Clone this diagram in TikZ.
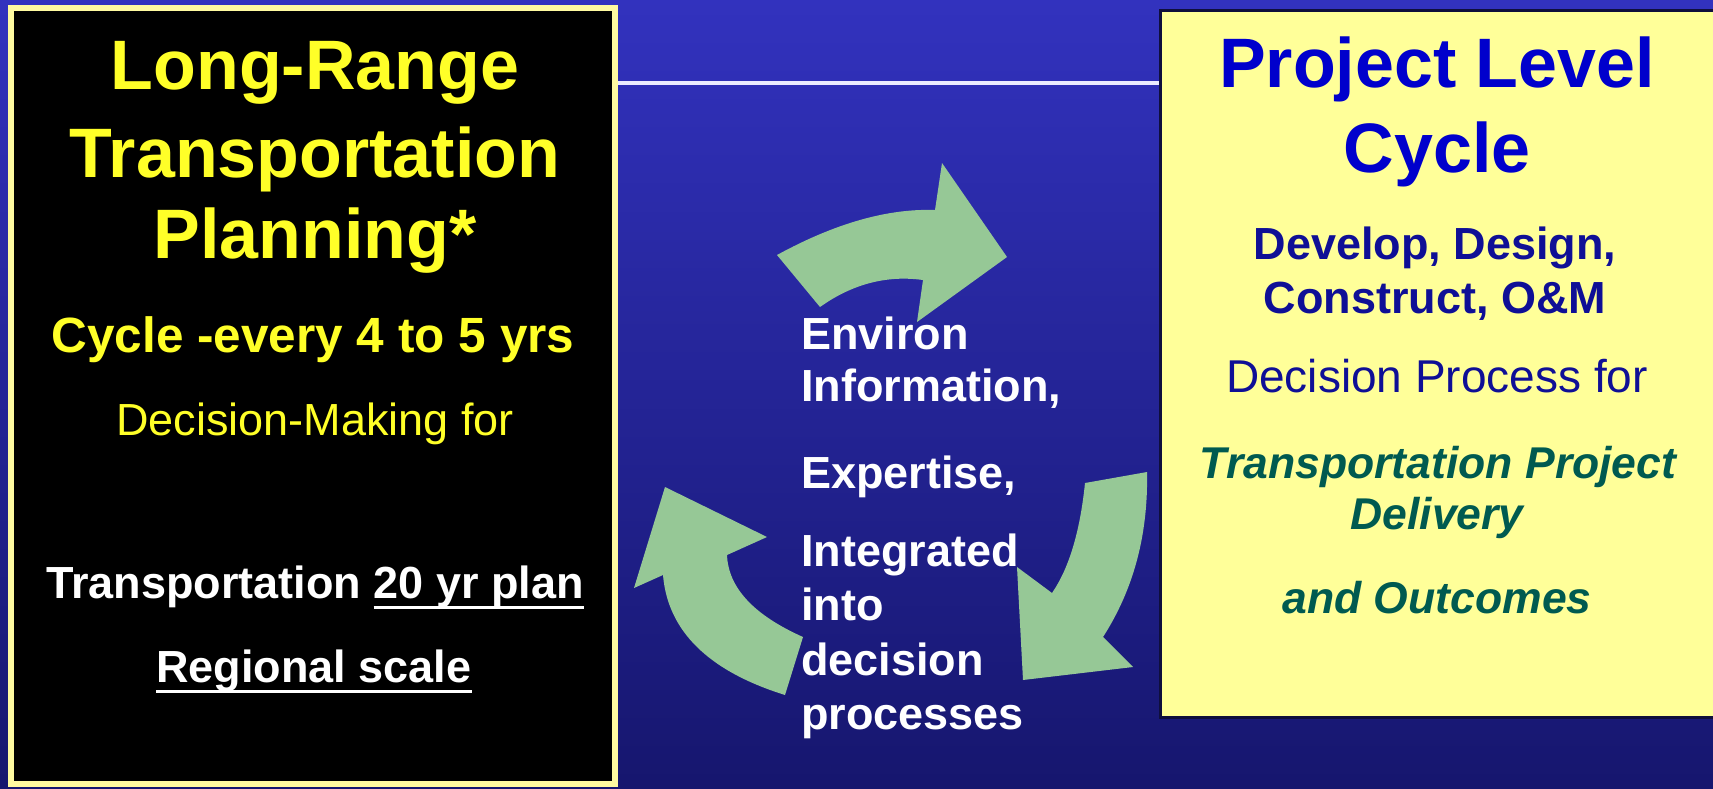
\documentclass[tikz,border=0pt]{standalone}
\usepackage{fontspec}
\setmainfont{Liberation Sans}
\usepackage{xcolor}

\definecolor{bgtop}{RGB}{50,50,190}
\definecolor{bgbot}{RGB}{22,22,110}
\definecolor{lryellow}{RGB}{255,255,40}
\definecolor{edgeyellow}{RGB}{255,250,160}
\definecolor{paleyellow}{RGB}{255,255,153}
\definecolor{boxedge}{RGB}{15,15,60}
\definecolor{plblue}{RGB}{0,0,204}
\definecolor{plnavy}{RGB}{15,15,150}
\definecolor{plteal}{RGB}{0,90,80}
\definecolor{sage}{RGB}{150,200,150}

\newcommand\undl[1]{\setbox0=\hbox{#1}\rlap{\rule[-11pt]{\wd0}{3pt}}\box0}

\begin{document}
\begin{tikzpicture}
  [x=1pt,y=-1pt,every node/.style={inner sep=0pt,anchor=base},
   titletext/.style={font=\fontsize{70}{80}\selectfont\bfseries},
   boldline/.style={font=\fontsize{45}{54}\selectfont\bfseries},
   thinline/.style={font=\fontsize{45}{54}\selectfont},
   slantline/.style={font=\fontsize{44.5}{54}\selectfont\bfseries\itshape,text=plteal},
   arrowfill/.style={fill=sage}]

  \useasboundingbox (0,0) rectangle (1713,788);
  \clip (0,0) rectangle (1713,788);
  \shade[top color=bgtop,bottom color=bgbot] (0,0) rectangle (1713,788);

  \node (lrtp) [draw=edgeyellow,fill=black,line width=6pt,minimum width=604pt,
    minimum height=776pt,anchor=center] at (313,396) {};
  \node (plc) [draw=boxedge,fill=paleyellow,line width=3pt,minimum width=560pt,
    minimum height=707pt,anchor=center] at (1440,363.5) {};

  \coordinate (rule) at (0,83);
  \draw[white!92!blue,line width=4pt] (lrtp.east |- rule) -- (plc.west |- rule);

  \fill[arrowfill] (777,255) .. controls (835,223.3) and (887.7,208.3) .. (935,210) -- (942,163)
    -- (1007,257) -- (917,322) -- (923,280) .. controls (886.7,275) and (852.3,284) .. (820,307) -- cycle;
  \fill[arrowfill] (785,695) -- (803,637) .. controls (753.7,615) and (728.3,587.7) .. (727,555)
    -- (767,537) -- (665,487) -- (634,588) -- (663,575) .. controls (667.7,631) and (708.3,671) .. (785,695) -- cycle;
  \fill[arrowfill] (1147,472) -- (1085,483) .. controls (1080,531.7) and (1069,568.3) .. (1052,593)
    -- (1017,567) -- (1023,680) -- (1133,667) -- (1103,637) .. controls (1133.7,589.3) and (1148.3,534.3) .. (1147,472) -- cycle;

  \node (lr1) [titletext,text=lryellow] at (315,89) {Long-Range};
  \node (lr2) [titletext,text=lryellow] at (315,177) {Transportation};
  \node (lr3) [titletext,text=lryellow] at (315,258) {Planning*};
  \node (lr4) [font=\fontsize{49.5}{56}\selectfont\bfseries,text=lryellow] at (313,352) {Cycle -every 4 to 5 yrs};
  \node (lr5) [thinline,text=lryellow] at (315,435) {Decision-Making for};
  \node (lr6) [boldline,text=white] at (315,598) {Transportation \undl{20 yr plan}};
  \node (lr7) [boldline,text=white] at (314,682) {\undl{Regional scale}};

  \foreach \y/\txt/\nm in {349/Environ/mt1,401/{Information,}/mt2,488/{Expertise,}/mt3,
    566/Integrated/mt4,620/into/mt5,675/decision/mt6,729/processes/mt7}
    \node (\nm) [boldline,text=white,anchor=base west] at (801,\y) {\txt};

  \node (pl1) [titletext,text=plblue] at (1437,87) {Project Level};
  \node (pl2) [titletext,text=plblue] at (1437,172) {Cycle};
  \node (pl3) [boldline,text=plnavy] at (1435,259) {Develop, Design,};
  \node (pl4) [boldline,text=plnavy] at (1435,313) {Construct, O\&M};
  \node (pl5) [font=\fontsize{46}{54}\selectfont,text=plnavy] at (1437,392) {Decision Process for};
  \node (pl6) [slantline] at (1438,478) {Transportation Project};
  \node (pl7) [slantline] at (1437,529) {Delivery};
  \node (pl8) [slantline] at (1437,613) {and Outcomes};

\end{tikzpicture}
\end{document}
